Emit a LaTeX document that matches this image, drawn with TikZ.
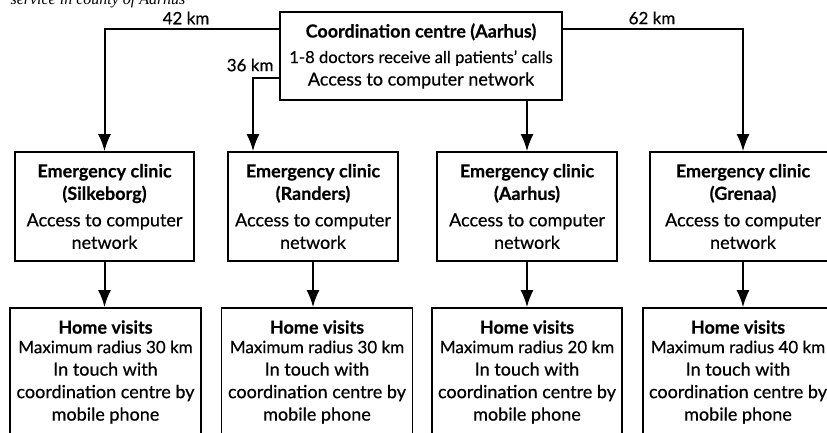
\documentclass[tikz,border=0pt]{standalone}
\usepackage{fontspec}
\setmainfont[UprightFeatures={FakeBold=0.6},BoldFeatures={FakeBold=0.4}]{Lato}
\newfontfamily\capfont{Liberation Serif}
\newcommand\maxline[1]{{\fontsize{17}{22.5}\selectfont Maximum radius #1 km}}
\usetikzlibrary{arrows.meta}
\begin{document}
\begin{tikzpicture}[x=1pt,y=-1pt,
  box/.style={draw,line width=1.6pt,inner sep=0pt,align=center,font=\fontsize{18}{22.5}\selectfont},
  conn/.style={line width=2pt,-{Latex[length=17pt,width=13pt]}},
  dist/.style={font=\fontsize{17}{19}\selectfont}]
\useasboundingbox (0,0) rectangle (827,432);
\clip (0,0) rectangle (827,432);
\node[anchor=base west,font=\capfont\itshape\fontsize{16}{19}\selectfont] (cap) at (7,4) {service in county of Aarhus};
\node[box,minimum width=282pt,minimum height=88pt] (top) at (421,56)
  {\textbf{Coordination centre (Aarhus)}\\[3pt]{\fontsize{16.6}{22.5}\selectfont 1-8 doctors receive all patients' calls}\\Access to computer network};
\node[box,minimum width=179pt,minimum height=109pt] (c1) at (104.5,206.5)
  {\textbf{Emergency clinic}\\\textbf{(Silkeborg)}\\[4pt]Access to computer\\network};
\node[box,minimum width=170pt,minimum height=109pt] (c2) at (313,206.5)
  {\textbf{Emergency clinic}\\\textbf{(Randers)}\\[4pt]Access to computer\\network};
\node[box,minimum width=180pt,minimum height=109pt] (c3) at (527,206.5)
  {\textbf{Emergency clinic}\\\textbf{(Aarhus)}\\[4pt]Access to computer\\network};
\node[box,minimum width=186pt,minimum height=109pt] (c4) at (743,206.5)
  {\textbf{Emergency clinic}\\\textbf{(Grenaa)}\\[4pt]Access to computer\\network};
\node[box,minimum width=191pt,minimum height=128pt] (h1) at (105.5,372)
  {\textbf{Home visits}\\[-3pt]\maxline{30}\\In touch with\\coordination centre by\\mobile phone};
\node[box,minimum width=191pt,minimum height=128pt] (h2) at (317,372)
  {\textbf{Home visits}\\[-3pt]\maxline{30}\\In touch with\\coordination centre by\\mobile phone};
\node[box,minimum width=190pt,minimum height=128pt] (h3) at (527,372)
  {\textbf{Home visits}\\[-3pt]\maxline{20}\\In touch with\\coordination centre by\\mobile phone};
\node[box,minimum width=190pt,minimum height=128pt] (h4) at (738,372)
  {\textbf{Home visits}\\[-3pt]\maxline{40}\\In touch with\\coordination centre by\\mobile phone};
\draw[conn] ([yshift=27pt]top.west) -| (c1.north);
\draw[conn] ([yshift=27pt]top.east) -| (c4.north);
\draw[conn] ([yshift=-22pt]top.west) -| ([xshift=-60pt]c2.north);
\draw[conn] (c3.north |- top.south) -- (c3.north);
\draw[conn] (c1.south) -- (c1.south |- h1.north);
\draw[conn] (c2.south) -- (c2.south |- h2.north);
\draw[conn] (c3.south) -- (c3.south |- h3.north);
\draw[conn] (c4.south) -- (c4.south |- h4.north);
\node[dist] (d42) at (186,18) {42 km};
\node[dist] (d62) at (652,18) {62 km};
\node[dist,anchor=east] (d36) at (277,65) {36 km};
\end{tikzpicture}
\end{document}
